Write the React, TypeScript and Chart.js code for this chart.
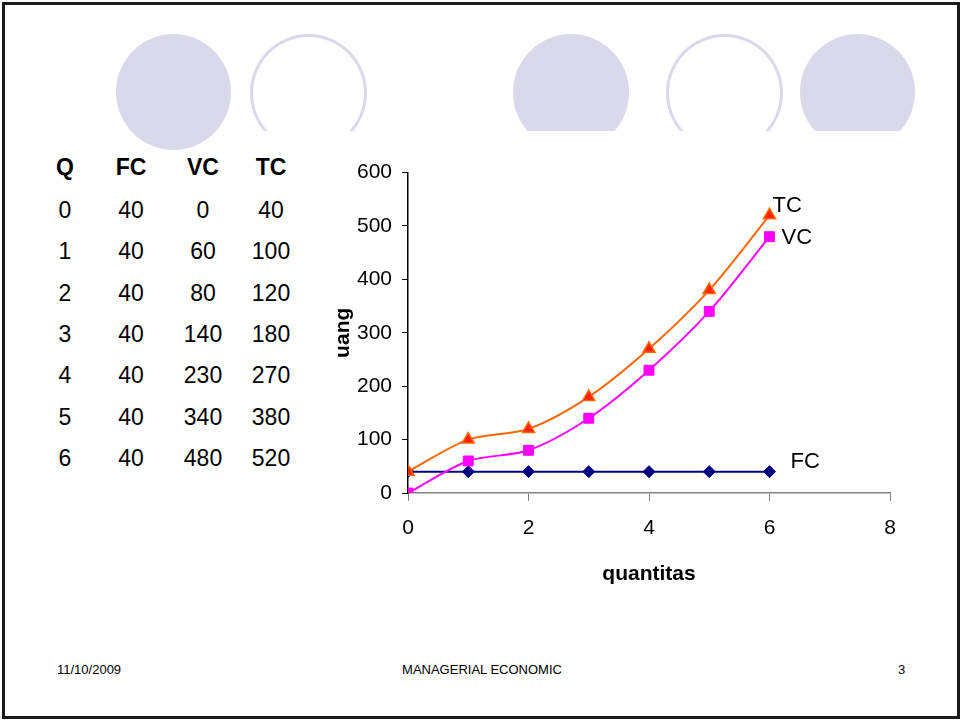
import React, { useEffect, useRef } from "react";
import { Chart, registerables } from "chart.js";

Chart.register(...registerables);

const quantities = [0, 1, 2, 3, 4, 5, 6];
const fixedCost = [40, 40, 40, 40, 40, 40, 40];
const variableCost = [0, 60, 80, 140, 230, 340, 480];
const totalCost = [40, 100, 120, 180, 270, 380, 520];
const tableHeaders = ["Q", "FC", "VC", "TC"];
const xTitle = "quantitas";
const yTitle = "uang";
const footerDate = "11/10/2009";
const footerTitle = "MANAGERIAL ECONOMIC";
const footerPage = "3";

const FONT = "'Liberation Sans', Arial, Helvetica, sans-serif";

const endLabelPlugin = {
  id: "endLabels",
  afterDatasetsDraw(chart: any, _args: any, opts: any) {
    const ctx = chart.ctx;
    ctx.save();
    ctx.font = `22px ${FONT}`;
    ctx.fillStyle = "#000";
    ctx.textAlign = "left";
    ctx.textBaseline = "middle";
    chart.data.datasets.forEach((ds: any, i: number) => {
      const meta = chart.getDatasetMeta(i);
      const pt = meta.data[meta.data.length - 1];
      if (!pt) return;
      const off = (opts.offsets && opts.offsets[ds.label]) || [6, 0];
      ctx.fillText(ds.label, pt.x + off[0], pt.y + off[1]);
    });
    ctx.restore();
  },
};

function CostChart() {
  const ref = useRef<HTMLCanvasElement | null>(null);
  useEffect(() => {
    if (!ref.current) return;
    const mk = (arr: number[]) => quantities.map((q, i) => ({ x: q, y: arr[i] }));
    const chart = new Chart(ref.current, {
      type: "line",
      data: {
        datasets: [
          {
            label: "TC",
            data: mk(totalCost),
            borderColor: "#FF6600",
            backgroundColor: "#FF2200",
            pointBorderColor: "#FF6600",
            pointBackgroundColor: "#FF2200",
            pointStyle: "triangle",
            pointRadius: 7,
            pointBorderWidth: 1.5,
            borderWidth: 2,
            tension: 0.3,
            order: 1,
          },
          {
            label: "VC",
            data: mk(variableCost),
            borderColor: "#FF00FF",
            backgroundColor: "#FF00FF",
            pointBorderColor: "#FF00FF",
            pointBackgroundColor: "#FF00FF",
            pointStyle: "rect",
            pointRadius: 7,
            pointBorderWidth: 1,
            borderWidth: 2,
            tension: 0.3,
            order: 2,
          },
          {
            label: "FC",
            data: mk(fixedCost),
            borderColor: "#000080",
            backgroundColor: "#000080",
            pointBorderColor: "#000080",
            pointBackgroundColor: "#000080",
            pointStyle: "rectRot",
            pointRadius: 6,
            pointBorderWidth: 1,
            borderWidth: 2,
            tension: 0,
            order: 3,
          },
        ],
      },
      options: {
        animation: false,
        responsive: false,
        devicePixelRatio: 1,
        layout: { padding: { top: 22, right: 40, left: 0, bottom: 0 } },
        plugins: {
          legend: { display: false },
          tooltip: { enabled: false },
          endLabels: { offsets: { TC: [3, -9], VC: [12, 1], FC: [21, -10] } },
        } as any,
        scales: {
          x: {
            type: "linear",
            min: 0,
            max: 8,
            ticks: { stepSize: 2, color: "#000", font: { family: FONT, size: 21 }, padding: 15 },
            grid: { drawOnChartArea: false, drawTicks: true, tickLength: 8, color: "#808080" },
            border: { display: true, color: "#808080", width: 1.5 },
            title: {
              display: true,
              text: xTitle,
              color: "#000",
              font: { family: FONT, size: 21, weight: "bold" },
              padding: { top: 0, bottom: 13 },
            },
            afterFit: (s: any) => {
              s.height = 107;
            },
          },
          y: {
            type: "linear",
            min: 0,
            max: 600,
            ticks: { stepSize: 100, color: "#000", font: { family: FONT, size: 21 }, padding: 10 },
            grid: { drawOnChartArea: false, drawTicks: true, tickLength: 6, color: "#000" },
            border: { display: true, color: "#000", width: 1.5 },
            title: {
              display: true,
              text: yTitle,
              color: "#000",
              font: { family: FONT, size: 21, weight: "bold" },
              padding: { top: 1, bottom: 0 },
            },
            afterFit: (s: any) => {
              s.width = 78;
            },
          },
        },
      },
      plugins: [endLabelPlugin],
    } as any);
    return () => chart.destroy();
  }, []);
  return (
    <canvas
      ref={ref}
      width={600}
      height={450}
      style={{ position: "absolute", left: 330, top: 150, width: 600, height: 450 }}
    />
  );
}

const LAV = "#DAD9EC";

export default function App() {
  const colCenters = [65, 131, 203, 271];
  const rows = quantities.map((q, i) => [q, fixedCost[i], variableCost[i], totalCost[i]]);
  const cell = (text: any, cx: number, cy: number, bold: boolean, key: string) => (
    <div
      key={key}
      style={{
        position: "absolute",
        left: cx - 40,
        width: 80,
        top: cy - 14,
        height: 28,
        lineHeight: "28px",
        textAlign: "center",
        fontFamily: FONT,
        fontSize: 23,
        fontWeight: bold ? "bold" : "normal",
        color: "#000",
      }}
    >
      {text}
    </div>
  );
  const circle = (left: number, right: number, filled: boolean, key: string) => (
    <div
      key={key}
      style={{
        position: "absolute",
        left,
        top: 34,
        width: right - left,
        height: right - left + 1,
        borderRadius: "50%",
        boxSizing: "border-box",
        background: filled ? LAV : "transparent",
        border: filled ? "none" : `3px solid ${LAV}`,
      }}
    />
  );
  return (
    <div
      style={{
        position: "fixed",
        left: 0,
        top: 0,
        width: 960,
        height: 721,
        background: "#fff",
        overflow: "hidden",
      }}
    >
      <div
        style={{
          position: "absolute",
          left: 2,
          top: 2,
          width: 958,
          height: 717,
          boxSizing: "border-box",
          border: "3px solid #1a1a1a",
        }}
      />
      {circle(116, 231, true, "c1")}
      <div style={{ position: "absolute", left: 0, top: 0, width: 960, height: 131, overflow: "hidden" }}>
        {circle(250, 367, false, "c2")}
        {circle(513, 629, true, "c3")}
        {circle(666, 783, false, "c4")}
        {circle(800, 915, true, "c5")}
      </div>
      {tableHeaders.map((h, j) => cell(h, colCenters[j], 167, true, "h" + j))}
      {rows.map((r, i) => r.map((v, j) => cell(v, colCenters[j], 210 + i * 41.3, false, `r${i}c${j}`)))}
      <CostChart />
      <div style={{ position: "absolute", left: 57, top: 662, fontFamily: FONT, fontSize: 13, color: "#000" }}>
        {footerDate}
      </div>
      <div
        style={{
          position: "absolute",
          left: 382,
          width: 200,
          top: 662,
          textAlign: "center",
          fontFamily: FONT,
          fontSize: 13,
          color: "#000",
        }}
      >
        {footerTitle}
      </div>
      <div style={{ position: "absolute", left: 898, top: 662, fontFamily: FONT, fontSize: 13, color: "#000" }}>
        {footerPage}
      </div>
    </div>
  );
}
